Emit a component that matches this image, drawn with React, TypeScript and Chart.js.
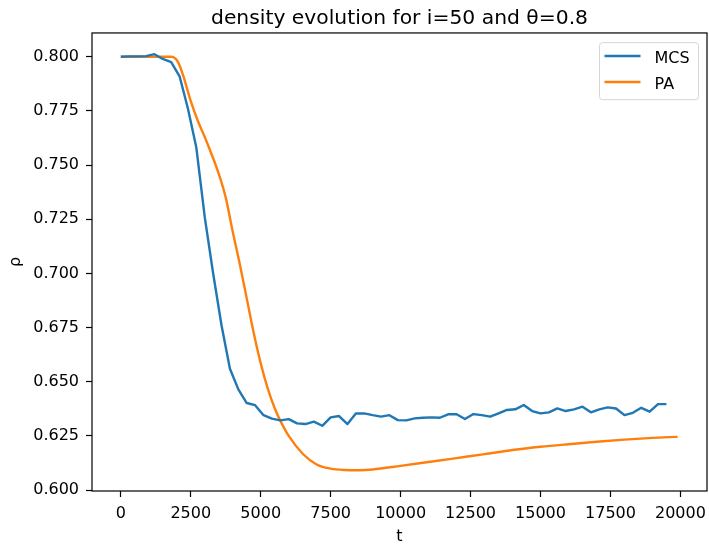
import React, { useEffect, useRef } from "react";
import { Chart, registerables } from "chart.js";

Chart.register(...registerables);

const TITLE = "density evolution for i=50 and θ=0.8";
const X_LABEL = "t";
const Y_LABEL = "ρ";

const X_TICKS = [0, 2500, 5000, 7500, 10000, 12500, 15000, 17500, 20000];
const Y_TICKS = [0.6, 0.625, 0.65, 0.675, 0.7, 0.725, 0.75, 0.775, 0.8];

const MCS_LABEL = "MCS";
const MCS_T = [
  0, 300, 600, 900, 1200, 1500, 1800, 2100, 2400, 2700,
  3000, 3300, 3600, 3900, 4200, 4500, 4800, 5100, 5400, 5700,
  6000, 6300, 6600, 6900, 7200, 7500, 7800, 8100, 8400, 8700,
  9000, 9300, 9600, 9900, 10200, 10500, 10800, 11100, 11400, 11700,
  12000, 12300, 12600, 12900, 13200, 13500, 13800, 14100, 14400, 14700,
  15000, 15300, 15600, 15900, 16200, 16500, 16800, 17100, 17400, 17700,
  18000, 18300, 18600, 18900, 19200, 19500,
];
const MCS_RHO = [
  0.8, 0.8002, 0.8002, 0.8003, 0.8012, 0.799, 0.7975, 0.791, 0.776, 0.758,
  0.726, 0.7, 0.676, 0.656, 0.6465, 0.6402, 0.6392, 0.6346, 0.633, 0.6322,
  0.6328, 0.6308, 0.6305, 0.6316, 0.6297, 0.6336, 0.6342, 0.6305, 0.6354, 0.6354,
  0.6346, 0.6339, 0.6346, 0.6323, 0.6322, 0.6331, 0.6334, 0.6336, 0.6334, 0.635,
  0.635, 0.6328, 0.6351, 0.6346, 0.6339, 0.6354, 0.637, 0.6373, 0.6393, 0.6365,
  0.6354, 0.6359, 0.6377, 0.6365, 0.6373, 0.6385, 0.6359, 0.6373, 0.6382, 0.6377,
  0.6346, 0.6357, 0.638, 0.6362, 0.6397, 0.6397,
];

const PA_LABEL = "PA";
const PA_T = [
  0, 1000, 1500, 1800, 1900, 2000, 2100, 2250, 2500, 2750,
  3000, 3250, 3500, 3750, 4000, 4250, 4500, 4750, 5000, 5250,
  5500, 5750, 6000, 6500, 7000, 7500, 8000, 8500, 9000, 10000,
  11000, 12000, 13000, 14000, 15000, 16000, 17000, 18000, 19000, 19900,
];
const PA_RHO = [
  0.8, 0.8, 0.8, 0.8, 0.7997, 0.7985, 0.796, 0.7905, 0.7795, 0.7705,
  0.763, 0.7548, 0.746, 0.735, 0.7193, 0.7045, 0.6885, 0.6725, 0.6585, 0.647,
  0.6378, 0.6308, 0.625, 0.6168, 0.6118, 0.6099, 0.6093, 0.6092, 0.6095, 0.6112,
  0.613, 0.6148, 0.6166, 0.6185, 0.62, 0.6212, 0.6223, 0.6233, 0.6241, 0.6246,
];

const BLUE = "#1f77b4";
const ORANGE = "#ff7f0e";
const FONT = "DejaVu Sans";

const frameLegendPlugin = {
  id: "frameLegend",
  afterDatasetsDraw(chart: any) {
    const { ctx, chartArea: a } = chart;
    ctx.save();
    ctx.strokeStyle = "#000";
    ctx.lineWidth = 1.2;
    ctx.strokeRect(a.left, a.top, a.right - a.left, a.bottom - a.top);

    const w = 99;
    const h = 57;
    const bx = a.right - 8.5 - w;
    const by = a.top + 9.7;
    const r = 3;
    ctx.beginPath();
    ctx.moveTo(bx + r, by);
    ctx.lineTo(bx + w - r, by);
    ctx.arcTo(bx + w, by, bx + w, by + r, r);
    ctx.lineTo(bx + w, by + h - r);
    ctx.arcTo(bx + w, by + h, bx + w - r, by + h, r);
    ctx.lineTo(bx + r, by + h);
    ctx.arcTo(bx, by + h, bx, by + h - r, r);
    ctx.lineTo(bx, by + r);
    ctx.arcTo(bx, by, bx + r, by, r);
    ctx.closePath();
    ctx.fillStyle = "rgba(255,255,255,0.8)";
    ctx.fill();
    ctx.strokeStyle = "#d6d6d6";
    ctx.lineWidth = 1;
    ctx.stroke();

    ctx.font = `16px "${FONT}"`;
    ctx.textBaseline = "alphabetic";
    ctx.textAlign = "left";
    chart.data.datasets.forEach((ds: any, i: number) => {
      const y = by + 13.3 + i * 26;
      ctx.beginPath();
      ctx.strokeStyle = ds.borderColor;
      ctx.lineWidth = 2.4;
      ctx.lineCap = "butt";
      ctx.moveTo(bx + 5, y);
      ctx.lineTo(bx + 41, y);
      ctx.stroke();
      ctx.fillStyle = "#000";
      ctx.fillText(ds.label, bx + 55, y + 7.3);
    });
    ctx.restore();
  },
};

function zeroPadding(scale: any) {
  scale.paddingLeft = 0;
  scale.paddingRight = 0;
  scale.paddingTop = 0;
  scale.paddingBottom = 0;
}

export default function App() {
  const canvasRef = useRef<HTMLCanvasElement | null>(null);

  useEffect(() => {
    const canvas = canvasRef.current;
    if (!canvas) return;
    Chart.defaults.font.family = FONT;
    Chart.defaults.color = "#000";

    const chart = new Chart(canvas, {
      type: "line",
      data: {
        datasets: [
          {
            label: MCS_LABEL,
            data: MCS_T.map((t, i) => ({ x: t, y: MCS_RHO[i] })),
            borderColor: BLUE,
            backgroundColor: BLUE,
            borderWidth: 2.4,
            pointRadius: 0,
            tension: 0,
            borderJoinStyle: "round",
          },
          {
            label: PA_LABEL,
            data: PA_T.map((t, i) => ({ x: t, y: PA_RHO[i] })),
            borderColor: ORANGE,
            backgroundColor: ORANGE,
            borderWidth: 2.4,
            pointRadius: 0,
            cubicInterpolationMode: "monotone",
            borderJoinStyle: "round",
          },
        ],
      },
      options: {
        animation: false,
        responsive: false,
        devicePixelRatio: 1,
        layout: { padding: { left: 0, right: 2, top: 0, bottom: 0 } },
        plugins: {
          legend: { display: false },
          tooltip: { enabled: false },
          title: {
            display: true,
            text: TITLE,
            fullSize: false,
            color: "#000",
            font: { family: FONT, size: 20.3, weight: "normal" },
            padding: { top: 6.3, bottom: 2.3 },
          },
        },
        scales: {
          x: {
            type: "linear",
            min: -1030,
            max: 20950,
            afterBuildTicks: (scale: any) => {
              scale.ticks = X_TICKS.map((v) => ({ value: v }));
            },
            afterFit: (scale: any) => {
              scale.height = 57;
              zeroPadding(scale);
            },
            ticks: {
              autoSkip: false,
              maxRotation: 0,
              padding: 7,
              color: "#000",
              font: { family: FONT, size: 16 },
              callback: (v: any) => String(v),
            },
            grid: {
              display: true,
              drawOnChartArea: false,
              drawTicks: true,
              tickLength: 6,
              tickColor: "#000",
              tickWidth: 1.2,
            },
            border: { display: false },
            title: {
              display: true,
              text: X_LABEL,
              color: "#000",
              font: { family: FONT, size: 16 },
              padding: { top: 0, bottom: 2 },
            },
          },
          y: {
            type: "linear",
            min: 0.5996,
            max: 0.811,
            afterBuildTicks: (scale: any) => {
              scale.ticks = Y_TICKS.map((v) => ({ value: v }));
            },
            afterFit: (scale: any) => {
              scale.width = 92;
              zeroPadding(scale);
            },
            ticks: {
              autoSkip: false,
              padding: 7,
              color: "#000",
              font: { family: FONT, size: 16 },
              callback: (v: any) => Number(v).toFixed(3),
            },
            grid: {
              display: true,
              drawOnChartArea: false,
              drawTicks: true,
              tickLength: 6,
              tickColor: "#000",
              tickWidth: 1.2,
            },
            border: { display: false },
            title: {
              display: true,
              text: Y_LABEL,
              color: "#000",
              font: { family: FONT, size: 16 },
              padding: { top: 6.7, bottom: 0 },
            },
          },
        },
      },
      plugins: [frameLegendPlugin],
    } as any);

    return () => {
      chart.destroy();
    };
  }, []);

  return (
    <div style={{ position: "absolute", left: 0, top: 0, width: 709, height: 548, background: "#fff" }}>
      <canvas ref={canvasRef} width={709} height={548} style={{ display: "block", width: 709, height: 548 }} />
    </div>
  );
}
